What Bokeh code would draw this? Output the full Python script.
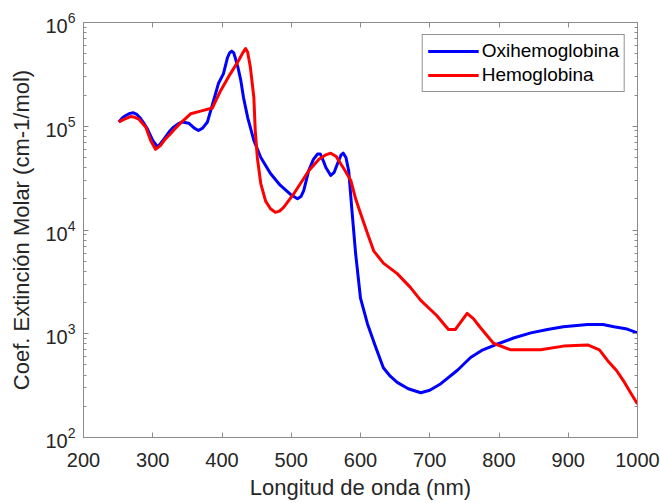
from bokeh.plotting import figure
from bokeh.models import (Range1d, FixedTicker, LinearAxis, LogAxis, Legend, LegendItem,
                          CustomJSTickFormatter)
from bokeh.embed import file_html
from bokeh.resources import INLINE

# ---- data ----
oxi_wl = [251, 256, 261, 267, 272, 277, 282, 287, 292, 300, 307, 312, 318, 324, 330,
          337, 343, 352, 360, 366, 372, 379, 388, 395, 402, 408, 411, 414, 417, 419,
          423, 427, 431, 437, 446, 456, 470, 484, 499, 509, 514, 518, 525, 532, 538,
          542, 546, 550, 557, 562, 567, 572, 575, 579, 583, 588, 593, 600, 610, 622,
          633, 643, 653, 669, 687, 700, 716, 740, 759, 775, 792, 821, 846, 870, 893,
          928, 950, 966, 985, 1000]
oxi_val = [1.1e5, 1.2e5, 1.27e5, 1.33e5, 1.35e5, 1.3e5, 1.2e5, 1.07e5, 9.5e4, 7.3e4,
           6.3e4, 6.9e4, 7.8e4, 8.9e4, 9.8e4, 1.06e5, 1.1e5, 1.07e5, 9.6e4, 9.1e4,
           9.6e4, 1.1e5, 1.78e5, 2.6e5, 3.2e5, 4.6e5, 5.1e5, 5.3e5, 5.1e5, 4.6e5,
           3.7e5, 2.8e5, 1.9e5, 1.22e5, 7.3e4, 5.0e4, 3.5e4, 2.7e4, 2.2e4, 2.0e4,
           2.1e4, 2.4e4, 3.7e4, 4.8e4, 5.4e4, 5.4e4, 4.7e4, 4.0e4, 3.35e4, 3.6e4,
           4.4e4, 5.3e4, 5.5e4, 5.0e4, 3.7e4, 1.45e4, 5.9e3, 2.2e3, 1.25e3, 740,
           470, 390, 340, 295, 270, 285, 330, 445, 590, 690, 770, 910, 1020, 1100,
           1170, 1230, 1230, 1170, 1110, 1020]

hb_wl = [251, 260, 268, 274, 280, 290, 297, 304, 311, 318, 326, 333, 340, 348, 355,
         369, 386, 398, 412, 424, 430, 434, 437, 441, 446, 448, 451, 456, 463, 470,
         477, 483, 489, 503, 525, 540, 550, 557, 565, 571, 578, 586, 593, 600, 610,
         619, 633, 653, 672, 687, 710, 727, 737, 745, 754, 763, 773, 792, 817, 860,
         893, 928, 945, 957, 970, 980, 990, 1000]
hb_val = [1.1e5, 1.18e5, 1.24e5, 1.22e5, 1.17e5, 9.8e4, 7.3e4, 6.0e4, 6.5e4, 7.5e4,
          8.5e4, 9.6e4, 1.07e5, 1.2e5, 1.32e5, 1.4e5, 1.5e5, 2.2e5, 3.2e5, 4.3e5,
          5.1e5, 5.6e5, 5.2e5, 3.7e5, 1.9e5, 9.1e4, 5.0e4, 2.8e4, 1.9e4, 1.6e4,
          1.48e4, 1.52e4, 1.65e4, 2.2e4, 3.7e4, 4.8e4, 5.3e4, 5.5e4, 5.1e4, 4.4e4,
          3.7e4, 3.0e4, 2.0e4, 1.45e4, 9.3e3, 6.3e3, 4.8e3, 3.8e3, 2.8e3, 2.1e3,
          1.5e3, 1.1e3, 1.1e3, 1.3e3, 1.57e3, 1.4e3, 1.15e3, 810, 700, 700, 760,
          780, 700, 550, 440, 350, 270, 210]

series_names = ["Oxihemoglobina", "Hemoglobina"]
x_ticks = [200, 300, 400, 500, 600, 700, 800, 900, 1000]
y_ticks = [1e2, 1e3, 1e4, 1e5, 1e6]
y_minor = [m * 10 ** e for e in range(2, 6) for m in range(2, 10)]

x_label = "Longitud de onda (nm)"
y_label = "Coef. Extinción Molar (cm-1/mol)"

FONT = "Liberation Sans"
TXT = "#262626"
AX = "#8c8c8c"

p = figure(frame_width=554, frame_height=415, y_axis_type="log",
           x_range=Range1d(200, 1000), y_range=Range1d(1e2, 1e6),
           output_backend="svg", toolbar_location=None,
           min_border_left=83, min_border_right=23, min_border_top=22,
           min_border_bottom=66)
p.outline_line_color = None
p.grid.visible = False
p.background_fill_color = "white"
p.border_fill_color = "white"

r1 = p.line(oxi_wl, oxi_val, line_color="#0000ff", line_width=3, line_join="round")
r2 = p.line(hb_wl, hb_val, line_color="#ff0000", line_width=3, line_join="round")

xt = FixedTicker(ticks=x_ticks, minor_ticks=[])
yt = FixedTicker(ticks=y_ticks, minor_ticks=y_minor)


def style(ax):
    ax.axis_line_color = AX
    ax.axis_line_width = 1
    ax.major_tick_line_color = AX
    ax.minor_tick_line_color = AX
    ax.major_tick_in = 5
    ax.major_tick_out = 0
    ax.minor_tick_in = 3
    ax.minor_tick_out = 0
    ax.major_label_text_font = FONT
    ax.major_label_text_color = TXT
    ax.major_label_text_font_size = "20px"
    ax.axis_label_text_font = FONT
    ax.axis_label_text_color = TXT
    ax.axis_label_text_font_size = "22px"
    ax.axis_label_text_font_style = "normal"


xa = p.xaxis[0]
xa.ticker = xt
style(xa)
xa.axis_label = x_label
xa.major_label_standoff = 15
xa.axis_label_standoff = 5

ya = p.yaxis[0]
ya.ticker = yt
style(ya)
ya.axis_label = y_label
ya.major_label_standoff = 8
ya.axis_label_standoff = 8

blank = CustomJSTickFormatter(code="return ''")

top = LinearAxis(ticker=xt, formatter=blank)
style(top)
top.major_label_standoff = 0
p.add_layout(top, "above")

right = LogAxis(ticker=yt, formatter=blank)
style(right)
right.major_label_standoff = 0
p.add_layout(right, "right")

legend = Legend(items=[LegendItem(label=series_names[0], renderers=[r1]),
                       LegendItem(label=series_names[1], renderers=[r2])],
                location="top_right")
legend.margin = 12
legend.padding = 5
legend.spacing = 2
legend.glyph_width = 51
legend.glyph_height = 20
legend.label_height = 20
legend.label_standoff = 3
legend.label_text_font = FONT
legend.label_text_font_size = "19px"
legend.label_text_color = "#000000"
legend.border_line_color = TXT
legend.border_line_width = 1
legend.background_fill_color = "white"
legend.background_fill_alpha = 1
p.add_layout(legend)

open("out.html", "w").write(file_html(p, INLINE))
